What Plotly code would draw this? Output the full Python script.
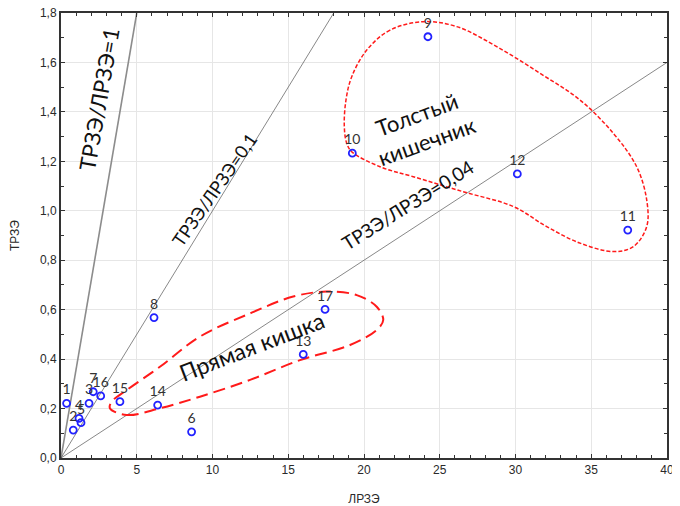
import plotly.graph_objects as go

# ---- data ----
point_ids = ["1", "2", "3", "4", "5", "6", "7", "8", "9", "10", "11", "12", "13", "14", "15", "16", "17"]
lrze = [0.37, 0.81, 1.85, 1.19, 1.32, 8.62, 2.13, 6.14, 24.22, 19.23, 37.41, 30.12, 15.99, 6.38, 3.89, 2.62, 17.43]
trze = [0.221, 0.113, 0.221, 0.160, 0.143, 0.106, 0.268, 0.568, 1.704, 1.233, 0.922, 1.149, 0.419, 0.214, 0.228, 0.251, 0.601]

ratio_values = [0.36, 0.1, 0.04]
ratio_labels = ["ТРЗЭ/ЛРЗЭ=1", "ТРЗЭ/ЛРЗЭ=0,1", "ТРЗЭ/ЛРЗЭ=0,04"]

colon_x = [23.91, 21.72, 20.18, 19.19, 18.81, 18.70, 18.86, 19.19, 21.06, 23.25, 26.55, 29.86,
           32.06, 34.26, 36.46, 37.78, 38.66, 38.66, 38.0, 36.46, 34.26, 31.62, 28.76, 26.12, 23.91]
colon_y = [1.765, 1.731, 1.650, 1.542, 1.448, 1.340, 1.273, 1.239, 1.178, 1.138, 1.077, 1.017,
           0.936, 0.869, 0.835, 0.855, 0.936, 1.044, 1.178, 1.313, 1.448, 1.556, 1.664, 1.745, 1.765]

rectum_x = [3.23, 4.34, 6.53, 9.17, 12.48, 15.78, 19.08, 20.84, 21.27, 20.84, 19.52, 17.54,
            15.33, 12.48, 9.17, 6.53, 4.34, 3.35, 3.23]
rectum_y = [0.201, 0.174, 0.201, 0.248, 0.316, 0.396, 0.457, 0.518, 0.558, 0.612, 0.659, 0.673,
            0.653, 0.585, 0.491, 0.369, 0.275, 0.228, 0.201]

x_range = [0, 40]
y_range = [0, 1.8]

FONT_TXT = "Lato, Open Sans, sans-serif"
FONT_AX = "Liberation Sans, Arial, sans-serif"

fig = go.Figure()

# ratio lines
line_styles = [dict(color="#8c8c8c", width=1.6), dict(color="#555555", width=0.7), dict(color="#555555", width=0.7)]
for r, st in zip(ratio_values, line_styles):
    x_end = min(x_range[1], y_range[1] / r)
    fig.add_trace(go.Scatter(x=[0, x_end], y=[0, r * x_end], mode="lines",
                             line=st, hoverinfo="skip", showlegend=False))

# contours
fig.add_trace(go.Scatter(x=colon_x, y=colon_y, mode="lines",
                         line=dict(color="#ff1a1a", width=1.5, dash="4px,2px", shape="spline", smoothing=1.0),
                         hoverinfo="skip", showlegend=False))
fig.add_trace(go.Scatter(x=rectum_x, y=rectum_y, mode="lines",
                         line=dict(color="#ff1a1a", width=2, dash="12px,6px", shape="spline", smoothing=1.0),
                         hoverinfo="skip", showlegend=False))

# points
fig.add_trace(go.Scatter(x=lrze, y=trze, mode="markers+text", text=point_ids,
                         textposition="top center", cliponaxis=False,
                         textfont=dict(family=FONT_TXT, size=14, color="#333333"),
                         marker=dict(symbol="circle-open", size=7, color="#2222ff", line=dict(width=1.8)),
                         showlegend=False))

annos = [
    dict(x=2.5, y=1.45, text=ratio_labels[0], textangle=-80, font=dict(size=22)),
    dict(x=10.1, y=1.085, text=ratio_labels[1], textangle=-55, font=dict(size=18)),
    dict(x=22.9, y=1.025, text=ratio_labels[2], textangle=-32, font=dict(size=19)),
    dict(x=23.8, y=1.335, text="Толстый<br>кишечник", textangle=-20, font=dict(size=22)),
    dict(x=12.6, y=0.455, text="Прямая кишка", textangle=-21, font=dict(size=23)),
]
for a in annos:
    a["font"]["family"] = FONT_TXT
    a["font"]["color"] = "#111111"
    fig.add_annotation(xref="x", yref="y", showarrow=False, **a)

axis_common = dict(
    showline=True, linecolor="#333333", linewidth=2, mirror="allticks",
    ticks="inside", ticklen=4, tickcolor="#333333", automargin=False,
    ticklabeloverflow="allow",
    showgrid=True, gridcolor="#e6e6e6", gridwidth=1, zeroline=False,
    tickfont=dict(family=FONT_AX, size=12, color="#2a2a2a"),
    title_font=dict(family=FONT_AX, size=12, color="#2a2a2a"),
)

fig.update_xaxes(range=x_range, dtick=5, tick0=0, tickformat=".0f", title_text="ЛРЗЭ", title_standoff=18,
                 minor=dict(dtick=1, ticks="inside", ticklen=3, tickcolor="#333333", showgrid=False),
                 **axis_common)
fig.update_yaxes(range=y_range, dtick=0.2, tick0=0, tickformat=".1f", title_text="ТРЗЭ", title_standoff=22,
                 minor=dict(dtick=0.1, ticks="inside", ticklen=3, tickcolor="#333333", showgrid=False),
                 **axis_common)

# page body has an 8px margin, so the figure is drawn 8px smaller and offset
fig.update_layout(
    width=672, height=498,
    margin=dict(l=53, r=13, t=5, b=48),
    plot_bgcolor="white", paper_bgcolor="white",
    separators=", ",
    showlegend=False,
)

fig.write_html("out.html")
